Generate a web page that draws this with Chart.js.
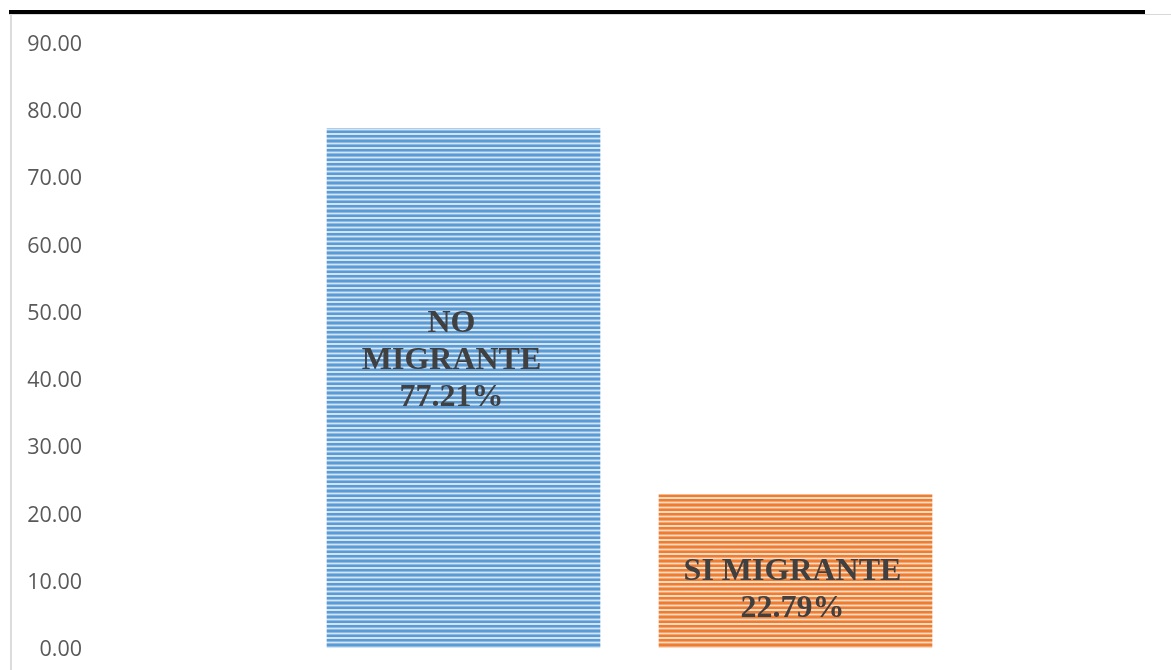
<!DOCTYPE html>
<html>
<head>
<meta charset="utf-8">
<script src="https://cdn.jsdelivr.net/npm/chart.js@4.4.1/dist/chart.umd.min.js"></script>
<style>
  html, body { margin: 0; padding: 0; background: #ffffff; }
  #wrap { position: relative; width: 1171px; height: 670px; overflow: hidden; }
  #topBlack { position: absolute; left: 9px; top: 10px; width: 1136px; height: 4px; background: #000; }
  #topGray { position: absolute; left: 9px; top: 14px; width: 1162px; height: 1px; background: #d9d9d9; }
  #leftGray { position: absolute; left: 10px; top: 14px; width: 2px; height: 656px; background: #dcdcdc; }
  canvas { position: absolute; left: 0; top: 0; }
</style>
</head>
<body>
<div id="wrap">
  <canvas id="c" width="1171" height="670"></canvas>
  <div id="topBlack"></div>
  <div id="topGray"></div>
  <div id="leftGray"></div>
</div>
<script>
// ---- data ----
const categories = ['NO MIGRANTE', 'SI MIGRANTE'];
const values = [77.21, 22.79];
const yTicks = [0, 10, 20, 30, 40, 50, 60, 70, 80, 90];

// ---- styles ----
const stripeColors = [
  { dark: '#5b9bd5', mid: '#8fbbe3', light: '#d3e4f4' },
  { dark: '#ed7d31', mid: '#f3a46f', light: '#fbdac4' }
];
const labelOffsets = [ { dx: -12, dy: -28 }, { dx: -3, dy: 19 } ];

function makeStripes(c) {
  const p = document.createElement('canvas');
  p.width = 8; p.height = 14;
  const g = p.getContext('2d');
  const rows = ['dark','dark','mid','light','mid','dark','dark','light','light','dark','dark','mid','light','mid'];
  rows.forEach((r, i) => { g.fillStyle = c[r]; g.fillRect(0, i, 8, 1); });
  return document.getElementById('c').getContext('2d').createPattern(p, 'repeat');
}
const patterns = stripeColors.map(makeStripes);

const labels = ['', ...categories, ''];
const data = [null, ...values, null];
const bg = [null, ...patterns, null];

const barLabelPlugin = {
  id: 'barLabels',
  afterDatasetsDraw(chart) {
    const ctx = chart.ctx;
    const meta = chart.getDatasetMeta(0);
    ctx.save();
    ctx.font = 'bold 32px "Liberation Serif", "Times New Roman", serif';
    ctx.fillStyle = '#404040';
    ctx.textAlign = 'center';
    ctx.textBaseline = 'middle';
    const maxW = 225, lh = 37;
    categories.forEach((cat, i) => {
      const el = meta.data[i + 1];
      if (!el) return;
      const words = cat.split(' ');
      const lines = [];
      let cur = '';
      words.forEach(w => {
        const t = cur ? cur + ' ' + w : w;
        if (ctx.measureText(t).width > maxW && cur) { lines.push(cur); cur = w; }
        else cur = t;
      });
      if (cur) lines.push(cur);
      lines.push(values[i].toFixed(2) + '%');
      const cx = el.x + labelOffsets[i].dx;
      const cy = (el.y + el.base) / 2 + labelOffsets[i].dy;
      const startY = cy - (lines.length - 1) * lh / 2;
      lines.forEach((ln, k) => ctx.fillText(ln, cx, startY + k * lh));
    });
    ctx.restore();
  }
};

new Chart(document.getElementById('c'), {
  type: 'bar',
  data: {
    labels: labels,
    datasets: [{
      data: data,
      backgroundColor: bg,
      borderWidth: 0,
      barThickness: 273
    }]
  },
  options: {
    responsive: false,
    animation: false,
    events: [],
    layout: { padding: { left: 0, right: 43.5, top: 42.5, bottom: 22 } },
    plugins: { legend: { display: false }, tooltip: { enabled: false } },
    scales: {
      x: {
        type: 'category',
        offset: false,
        display: false,
        grid: { display: false, offset: false }
      },
      y: {
        min: 0,
        max: 90,
        afterBuildTicks: (scale) => { scale.ticks = yTicks.map(v => ({ value: v })); },
        afterFit: (scale) => {
          scale.width = 131.5;
          scale.paddingTop = 0; scale.paddingBottom = 0;
          scale.paddingLeft = 0; scale.paddingRight = 0;
        },
        grid: { display: false, drawTicks: false },
        border: { display: false },
        ticks: {
          padding: 49.5,
          color: '#595959',
          font: { family: '"Open Sans", sans-serif', size: 21.5, lineHeight: 0.2 },
          callback: (v) => ['', Number(v).toFixed(2)]
        }
      }
    }
  },
  plugins: [barLabelPlugin]
});
</script>
</body>
</html>
